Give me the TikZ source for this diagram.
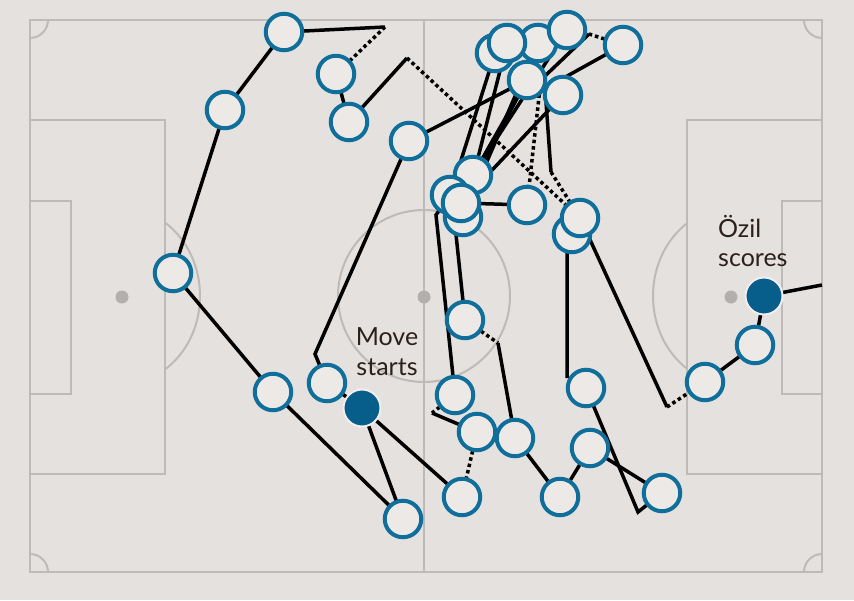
\documentclass[tikz,border=0pt]{standalone}
\usepackage{fontspec}
\setmainfont{Lato}
\pgfdeclarelayer{pitch}
\pgfdeclarelayer{links}
\pgfsetlayers{pitch,links,main}
\definecolor{bgc}{HTML}{E5E1DF}
\definecolor{linec}{HTML}{BDBAB8}
\definecolor{spotc}{HTML}{B2B0AE}
\definecolor{ringc}{HTML}{0F6F9A}
\definecolor{nodefill}{HTML}{ECE9E7}
\definecolor{darkc}{HTML}{075E8B}
\definecolor{haloc}{HTML}{F1EFED}
\definecolor{txtc}{HTML}{2A211C}
\begin{document}
\begin{tikzpicture}[x=1pt,y=-1pt,
  pl/.style={circle,draw=ringc,fill=nodefill,line width=4pt,minimum size=36.5pt,inner sep=0pt},
  fl/.style={circle,draw=haloc,fill=darkc,line width=2pt,minimum size=37pt,inner sep=0pt},
  pass/.style={line width=3.5pt,black},
  carry/.style={line width=3.5pt,black,dash pattern=on 3.5pt off 3pt},
  pline/.style={draw=linec,line width=2pt},
  spot/.style={circle,fill=spotc,minimum size=13pt,inner sep=0pt},
  lbl/.style={text=txtc,font=\fontsize{25}{30}\selectfont,inner sep=0pt}]
\useasboundingbox (0,0) rectangle (854,600);
\begin{pgfonlayer}{pitch}
  \fill[bgc] (0,0) rectangle (854,600);
  \draw[pline] (30,20) rectangle (822,572);
  \draw[pline] (424,20) -- (424,572);
  \draw[pline] (30,120) rectangle (165,474);
  \draw[pline] (30,201) rectangle (71,394);
  \draw[pline] (687,120) rectangle (822,474);
  \draw[pline] (782,201) rectangle (822,394);
  \draw[pline] (424,296) circle[radius=86];
  \begin{scope}
    \clip (30,20) rectangle (822,572);
    \draw[pline] (30,20) circle[radius=18];
    \draw[pline] (822,20) circle[radius=18];
    \draw[pline] (30,572) circle[radius=18];
    \draw[pline] (822,572) circle[radius=18];
  \end{scope}
  \begin{scope}
    \clip (166,0) rectangle (300,600);
    \draw[pline] (122,296) ellipse[x radius=78, y radius=88];
  \end{scope}
  \begin{scope}
    \clip (550,0) rectangle (686,600);
    \draw[pline] (731,296) ellipse[x radius=78, y radius=88];
  \end{scope}
  \node[spot] (s1) at (122,297) {};
  \node[spot] (s2) at (424,297) {};
  \node[spot] (s3) at (731,297) {};
\end{pgfonlayer}

% players
\node[pl] (A) at (284,32) {};
\node[pl] (B) at (225,110) {};
\node[pl] (C) at (173,273) {};
\node[pl] (D) at (273,392) {};
\node[pl] (E) at (403,519) {};
\node[pl] (F) at (327,383) {};
\node[fl] (St) at (362,408) {};
\node[pl] (G) at (336,74) {};
\node[pl] (H) at (349,122) {};
\node[pl] (I) at (409,141) {};
\node[pl] (J1) at (495,53) {};
\node[pl] (J3) at (538,43) {};
\node[pl] (J2) at (507,43) {};
\node[pl] (J4) at (567,30) {};
\node[pl] (J5) at (623,45) {};
\node[pl] (J6) at (527,80) {};
\node[pl] (J7) at (563,95) {};
\node[pl] (K1) at (473,175) {};
\node[pl] (K4) at (463,217) {};
\node[pl] (K2) at (450,195) {};
\node[pl] (K3) at (461,203) {};
\node[pl] (L) at (527,205) {};
\node[pl] (M2) at (572,234) {};
\node[pl] (M1) at (580,218) {};
\node[pl] (N) at (465,320) {};
\node[pl] (O) at (455,395) {};
\node[pl] (P) at (477,432) {};
\node[pl] (Q) at (515,438) {};
\node[pl] (R) at (462,497) {};
\node[pl] (S) at (560,497) {};
\node[pl] (T) at (586,388) {};
\node[pl] (U) at (590,448) {};
\node[pl] (V) at (662,493) {};
\node[pl] (W) at (705,382) {};
\node[pl] (X) at (755,345) {};
\node[fl] (Oz) at (764,296) {};

% corner points
\coordinate (c1) at (385,27);
\coordinate (c2) at (407,58);
\coordinate (c3) at (315,354);
\coordinate (c4) at (436,215);
\coordinate (c5) at (432,413);
\coordinate (c6) at (498,343);
\coordinate (c7) at (551,172);
\coordinate (c8) at (546,102);
\coordinate (c9) at (540,88);
\coordinate (c10) at (667,407);
\coordinate (c11) at (638,512);
\coordinate (c12) at (567,378);
\coordinate (c13) at (567,240);
\coordinate (c14) at (560,80);
\coordinate (c15) at (589,34);
\coordinate (c16) at (545,76);
\coordinate (c17) at (455,225);
\coordinate (goal) at (822,285);

\begin{pgfonlayer}{links}
  \draw[pass] (C.center) -- (B.center) -- (A.center) -- (c1);
  \draw[carry] (c1) -- (G.center);
  \draw[pass] (G.center) -- (H.center) -- (c2);
  \draw[carry] (c2) -- (M1.center);
  \draw[pass] (C.center) -- (D.center) -- (E.center);
  \draw[pass] (St.center) -- (E.center);
  \draw[pass] (St.center) -- (R.center);
  \draw[pass] (St.center) -- (F.center) -- (c3) -- (I.center) -- (J6.center);
  \draw[pass] (K2.center) -- (J1.center);
  \draw[pass] (K4.center) -- (J2.center);
  \draw[pass] (K4.center) -- (J3.center);
  \draw[pass] (K3.center) -- (J6.center);
  \draw[pass] (K1.center) -- (J4.center);
  \draw[pass] (K1.center) -- (J6.center);
  \draw[pass] (K3.center) -- (J7.center);
  \draw[pass] (K3.center) -- (L.center);
  \draw[carry] (c9) -- (L.center);
  \draw[pass] (c8) -- (c7);
  \draw[carry] (c7) -- (M1.center);
  \draw[pass] (J5.center) -- (c14);
  \draw[carry] (J5.center) -- (c15);
  \draw[pass] (c15) -- (c16);
  \draw[pass] (K2.center) -- (c4) -- (O.center);
  \draw[carry] (O.center) -- (c5);
  \draw[pass] (c5) -- (P.center);
  \draw[carry] (P.center) -- (R.center);
  \draw[pass] (c17) -- (N.center);
  \draw[carry] (N.center) -- (c6);
  \draw[pass] (c6) -- (Q.center) -- (S.center) -- (U.center) -- (V.center);
  \draw[pass] (T.center) -- (c11) -- (V.center);
  \draw[pass] (M2.center) -- (c13) -- (c12);
  \draw[pass] (M1.center) -- (c10);
  \draw[carry] (c10) -- (W.center);
  \draw[pass] (W.center) -- (X.center) -- (Oz.center) -- (goal);
\end{pgfonlayer}

% labels
\node[lbl,anchor=base] (ms1) at (387,345) {Move};
\node[lbl,anchor=base] (ms2) at (387,375) {starts};
\node[lbl,anchor=base west] (oz1) at (718,237) {Özil};
\node[lbl,anchor=base west] (oz2) at (718,266) {scores};
\end{tikzpicture}
\end{document}
